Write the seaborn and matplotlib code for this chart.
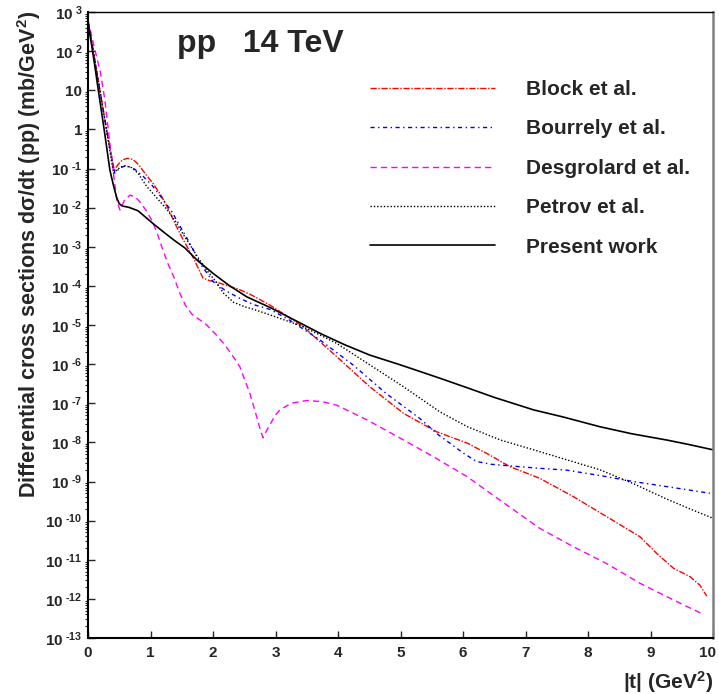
import numpy as np
import matplotlib
matplotlib.use('agg')
import matplotlib.pyplot as plt
import matplotlib.transforms as mtransforms
from matplotlib.ticker import FixedLocator, FixedFormatter, LogLocator, NullFormatter
import seaborn as sns

# |t| (GeV^2) and log10 of dsigma/dt (mb/GeV^2)
t_block = [0, 0.1, 0.19, 0.3, 0.37, 0.42, 0.48, 0.55, 0.63, 0.72, 0.81, 0.91, 1.05, 1.18,
           1.28, 1.39, 1.5, 1.6, 1.69, 1.84, 1.95, 2.05, 2.2, 2.4, 2.6, 2.91, 3.44, 3.98,
           4.51, 5.05, 5.58, 6.07, 6.4, 6.75, 7.23, 7.77, 8.3, 8.83, 9.1, 9.37, 9.63, 9.79, 9.9]
lg_block = [2.75, 1.85, 1.0, -0.02, -0.62, -1.04, -0.9, -0.78, -0.74, -0.77, -0.9, -1.12, -1.4, -1.72,
            -2.02, -2.4, -2.75, -3.04, -3.3, -3.8, -3.87, -3.9, -3.98, -4.08, -4.22, -4.49, -5.04, -5.81,
            -6.58, -7.26, -7.73, -8.02, -8.3, -8.62, -8.92, -9.39, -9.9, -10.41, -10.84, -11.22, -11.43, -11.65, -11.93]

t_bourrely = [0, 0.1, 0.19, 0.3, 0.38, 0.43, 0.5, 0.58, 0.65, 0.75, 0.87, 1.02, 1.18, 1.34,
              1.5, 1.66, 1.79, 2.0, 2.2, 2.43, 2.65, 2.91, 3.2, 3.71, 4.24, 4.77, 5.31, 5.6,
              5.79, 6.0, 6.22, 6.45, 6.75, 7.2, 7.66, 8.2, 8.72, 9.3, 9.95]
lg_bourrely = [2.75, 1.85, 1.0, -0.05, -0.75, -1.12, -1.0, -0.94, -0.95, -1.02, -1.18, -1.42, -1.75, -2.1,
               -2.55, -3.0, -3.42, -3.89, -4.12, -4.32, -4.48, -4.6, -4.85, -5.38, -6.02, -6.75, -7.39, -7.8,
               -8.02, -8.27, -8.49, -8.56, -8.6, -8.66, -8.71, -8.85, -9.0, -9.14, -9.3]

t_desgrolard = [0, 0.1, 0.2, 0.27, 0.35, 0.42, 0.46, 0.51, 0.58, 0.67, 0.75, 0.83, 0.92, 1.02,
                1.1, 1.18, 1.27, 1.37, 1.47, 1.56, 1.66, 1.79, 1.9, 2.05, 2.17, 2.3, 2.43, 2.59,
                2.7, 2.76, 2.8, 2.84, 2.91, 3.0, 3.07, 3.25, 3.5, 3.75, 3.98, 4.47, 5.05, 5.53,
                6.07, 6.55, 7.23, 7.77, 8.3, 8.83, 9.37, 9.85]
lg_desgrolard = [2.8, 2.1, 1.45, 0.75, -0.36, -1.29, -1.8, -2.06, -1.82, -1.68, -1.72, -1.85, -2.05, -2.32,
                 -2.62, -3.0, -3.4, -3.76, -4.19, -4.5, -4.72, -4.87, -5.0, -5.25, -5.47, -5.75, -6.07, -6.75,
                 -7.35, -7.7, -7.88, -7.75, -7.55, -7.3, -7.17, -7.0, -6.93, -6.96, -7.05, -7.43, -7.94, -8.37,
                 -8.88, -9.43, -10.2, -10.67, -11.1, -11.6, -12.03, -12.4]

t_petrov = [0, 0.1, 0.19, 0.3, 0.37, 0.41, 0.47, 0.53, 0.6, 0.7, 0.8, 0.94, 1.1, 1.27,
            1.4, 1.53, 1.63, 1.77, 1.9, 2.05, 2.17, 2.33, 2.5, 2.65, 2.91, 3.44, 3.98, 4.51,
            5.05, 5.63, 6.07, 6.6, 7.13, 7.67, 8.19, 8.72, 9.26, 9.6, 10]
lg_petrov = [2.75, 1.85, 1.0, -0.05, -0.75, -1.12, -1.02, -0.96, -0.93, -0.98, -1.12, -1.46, -1.75, -2.06,
             -2.35, -2.7, -2.95, -3.3, -3.6, -3.9, -4.19, -4.42, -4.53, -4.6, -4.74, -5.04, -5.47, -6.02,
             -6.58, -7.22, -7.6, -7.94, -8.19, -8.45, -8.7, -9.05, -9.45, -9.68, -9.94]

t_present = [0, 0.1, 0.165, 0.26, 0.35, 0.41, 0.46, 0.5, 0.55, 0.65, 0.8, 0.91, 1.05, 1.23,
             1.4, 1.55, 1.75, 2.0, 2.25, 2.54, 2.91, 3.3, 3.71, 4.1, 4.51, 5.0, 5.63, 6.06,
             6.5, 7.13, 7.6, 8.19, 8.7, 9.26, 9.6, 10]
lg_present = [2.75, 1.72, 1.0, -0.02, -1.04, -1.45, -1.75, -1.9, -1.96, -1.99, -2.08, -2.23, -2.42, -2.65,
              -2.86, -3.03, -3.35, -3.68, -3.98, -4.28, -4.55, -4.87, -5.21, -5.5, -5.77, -6.02, -6.36, -6.6,
              -6.85, -7.17, -7.35, -7.6, -7.78, -7.94, -8.05, -8.19]

labels = ["Block et al.", "Bourrely et al.", "Desgrolard et al.", "Petrov et al.", "Present work"]
y_exponents = list(range(-13, 4))
x_ticks = list(range(0, 11))


def main(output):
	sns.set_style("ticks")
	plt.rcParams['font.family'] = ['Liberation Sans', 'DejaVu Sans']
	plt.rcParams['font.weight'] = 'bold'
	plt.rcParams['mathtext.fontset'] = 'custom'
	plt.rcParams['mathtext.rm'] = 'Liberation Sans:bold'
	plt.rcParams['mathtext.bf'] = 'Liberation Sans:bold'
	plt.rcParams['mathtext.default'] = 'bf'

	fig = plt.figure(figsize=(7.19, 6.94), dpi=100)
	ax = fig.add_axes([88/719, 56/694, 625/719, 626/694])

	curves = [
		(t_block, lg_block, "#ff0000", (0, (4.5, 1.2, 1, 1.2)), 1.0),
		(t_bourrely, lg_bourrely, "#0000ff", (0, (3, 2.5, 1, 2.5)), 1.0),
		(t_desgrolard, lg_desgrolard, "#ff00ff", (0, (4.5, 3)), 1.0),
		(t_petrov, lg_petrov, "#000000", (0, (1, 1.4)), 1.0),
		(t_present, lg_present, "#000000", "-", 1.2),
	]
	for (t, lg, color, ls, lw), lab in zip(curves, labels):
		sns.lineplot(x=t, y=10.0**np.array(lg), ax=ax, color=color, linestyle=ls,
					 lw=lw, label=lab, legend=False)

	ax.set_yscale('log')
	ax.set_xlim(0, 10)
	ax.set_ylim(1e-13, 1e3)

	ylab = []
	for e in y_exponents:
		if e == 0:
			ylab.append('1')
		elif e == 1:
			ylab.append('10')
		else:
			ylab.append(r'$10^{\;\text{%d}}$' % e)
	ax.yaxis.set_major_locator(FixedLocator([10.0**e for e in y_exponents]))
	ax.yaxis.set_major_formatter(FixedFormatter(ylab))
	ax.yaxis.set_minor_locator(LogLocator(base=10, subs=np.arange(2, 10), numticks=100))
	ax.yaxis.set_minor_formatter(NullFormatter())
	ax.set_xticks(x_ticks)
	ax.set_xticklabels([str(v) for v in x_ticks])

	ax.tick_params(direction='in', top=False, right=False, labelsize=11, width=1)
	ax.tick_params(axis='both', which='major', length=5)
	ax.tick_params(axis='y', which='minor', length=2.5, width=0.8)
	ax.tick_params(axis='y', pad=4)
	ax.tick_params(axis='x', pad=6)

	# last x label sits at the figure edge; nudge it in a little
	last = ax.get_xticklabels()[-1]
	last.set_transform(last.get_transform() + mtransforms.ScaledTranslation(-5/100, 0, fig.dpi_scale_trans))

	for side in ['left', 'bottom']:
		ax.spines[side].set_linewidth(1.5)
		ax.spines[side].set_color('black')
	ax.spines['top'].set_linewidth(1.0)
	ax.spines['top'].set_color('black')
	ax.spines['right'].set_linewidth(1.8)
	ax.spines['right'].set_color('#808080')

	ax.set_ylabel(r'Differential cross sections d$\sigma$/dt (pp) (mb/GeV$^{2}$)',
				  fontsize=15.5, fontweight='bold', ha='center', va='center')
	ax.yaxis.set_label_coords(-0.095, 0.612)
	ax.set_xlabel(r'|t| (GeV$^{2}$)', fontsize=15, fontweight='bold', ha='right', va='center')
	ax.xaxis.set_label_coords(1.0, -0.07)

	ax.text(0.142, 0.949, 'pp   14 TeV', transform=ax.transAxes, fontsize=23,
			fontweight='bold', ha='left', va='center')

	ax.legend(loc='upper left', bbox_to_anchor=(370/719, 1 - 80/694), bbox_transform=fig.transFigure,
			  frameon=False, fontsize=15, handlelength=6.0, handletextpad=1.5,
			  labelspacing=0.98, borderpad=0, borderaxespad=0)

	fig.savefig(output, dpi=100)


if __name__ == "__main__":
	main("out.png")
